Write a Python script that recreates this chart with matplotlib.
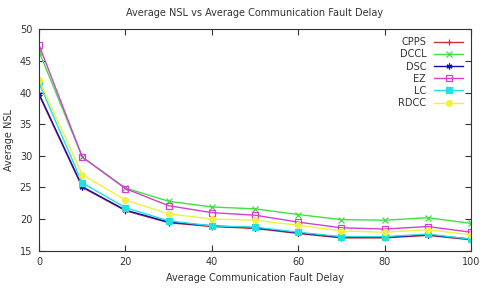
import matplotlib
matplotlib.use("Agg")
import matplotlib.pyplot as plt

delay = [0, 10, 20, 30, 40, 50, 60, 70, 80, 90, 100]

cpps = [39.6, 25.0, 21.3, 19.4, 18.8, 18.5, 17.7, 17.0, 17.0, 17.4, 16.7]
dccl = [46.5, 29.8, 24.9, 22.8, 21.9, 21.6, 20.7, 19.9, 19.8, 20.2, 19.3]
dsc = [39.8, 25.1, 21.4, 19.5, 18.9, 18.6, 17.8, 17.1, 17.1, 17.5, 16.8]
ez = [47.5, 29.8, 24.8, 22.1, 21.0, 20.6, 19.5, 18.6, 18.4, 18.8, 17.9]
lc = [41.5, 25.7, 21.8, 19.7, 18.9, 18.7, 17.9, 17.2, 17.2, 17.6, 16.8]
rdcc = [42.0, 27.0, 23.0, 20.8, 20.0, 19.8, 19.0, 18.1, 17.9, 18.3, 17.5]

fig = plt.figure(figsize=(4.83, 2.92), dpi=100)
ax = fig.add_axes([0.081, 0.142, 0.894, 0.757])

series = [
    ("CPPS", cpps, "#d03030", "+", dict()),
    ("DCCL", dccl, "#40e040", "x", dict()),
    ("DSC", dsc, "#1010b0", (6, 2, 0), dict()),
    ("EZ", ez, "#d040d0", "s", dict(markerfacecolor="none")),
    ("LC", lc, "#20e0e0", "s", dict()),
    ("RDCC", rdcc, "#f0f040", "o", dict()),
]

for name, vals, col, mk, extra in series:
    ax.plot(delay, vals, color=col, marker=mk, markersize=4.2, linewidth=1.0,
            markeredgewidth=0.9, label=name, **extra)

ax.set_xlim(0, 100)
ax.set_ylim(15, 50)
ax.set_xticks(range(0, 101, 20))
ax.set_yticks(range(15, 51, 5))
ax.tick_params(direction="in", top=True, right=True, labelsize=7, length=4,
               colors="#333333", pad=5)
for s in ax.spines.values():
    s.set_color("#333333")

ax.set_title("Average NSL vs Average Communication Fault Delay", fontsize=7,
             color="#333333", pad=10)
ax.set_xlabel("Average Communication Fault Delay", fontsize=7, color="#333333")
ax.set_ylabel("Average NSL", fontsize=7, color="#333333")

leg = ax.legend(loc="upper right", frameon=False, markerfirst=False, fontsize=7,
                handlelength=3.0, labelspacing=0.22, borderaxespad=0.4)
for t in leg.get_texts():
    t.set_ha("right")
    t.set_color("#333333")

fig.savefig("out.png", dpi=100)
